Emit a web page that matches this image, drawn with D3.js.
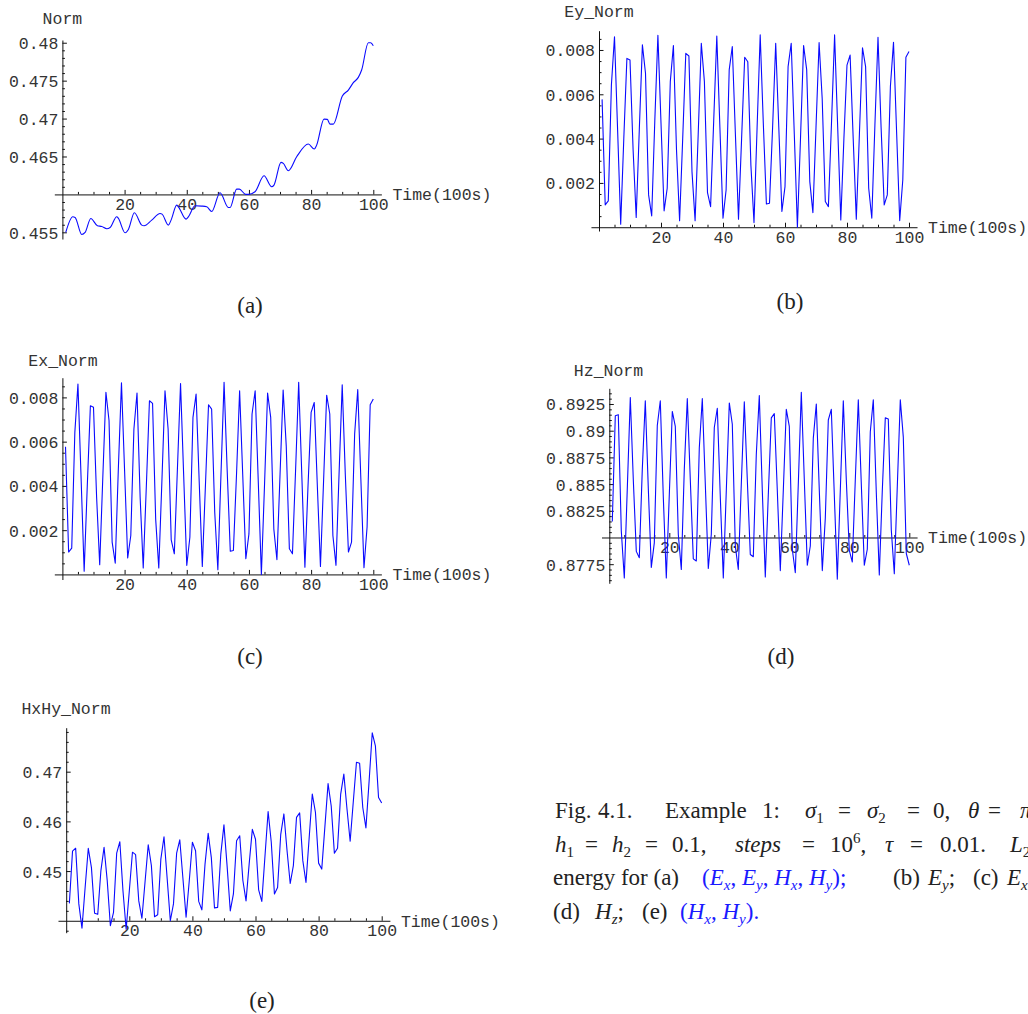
<!DOCTYPE html>
<html><head><meta charset="utf-8">
<script src="https://cdn.jsdelivr.net/npm/d3@7"></script>
<style>
html,body{margin:0;padding:0;background:#fff;}
svg{display:block;}
.mono{font-family:"Liberation Mono","DejaVu Sans Mono",monospace;font-size:16.5px;fill:#333;}
.cap{font-family:"Liberation Serif","DejaVu Serif",serif;font-size:23px;fill:#222;}
</style></head><body>
<svg id="fig" width="1028" height="1014"></svg>
<script>
// ---- time axis (units of 100 s) ----
const timeTicks = [20, 40, 60, 80, 100];
const timeSteps = d3.range(1, 101);

// ---- (a) total norm (Ex, Ey, Hx, Hy) ----
const normTime = [1.08, 3.33, 4.08, 6.22, 7.3, 9.13, 11.27, 12.67, 14.27, 15.34, 17.49, 18.02, 20.16, 21.23,
  23.16, 25.52, 26.27, 28.73, 31.41, 32.06, 34.09, 34.95, 36.77, 37.3, 39.77, 40.52, 42.66, 44.81, 46.42,
  48.02, 50.7, 53.38, 53.92, 56.06, 56.92, 58.95, 59.81, 61.95, 64.85, 67.31, 68.06, 70.31, 71.06, 72.67,
  75.35, 79.1, 81.03, 81.78, 84.14, 85.21, 86.07, 87.14, 90.04, 91.97, 93.57, 95.18, 96.25, 98.4, 99.15, 100];
const normValues = [0.45499, 0.45705, 0.45696, 0.45472, 0.45498, 0.45683, 0.45586, 0.45577, 0.45547, 0.45564,
  0.45705, 0.45683, 0.45494, 0.45538, 0.45758, 0.45595, 0.45586, 0.45661, 0.45749, 0.4574, 0.45595, 0.45661,
  0.45859, 0.45837, 0.45674, 0.45705, 0.4585, 0.45846, 0.45837, 0.45775, 0.46022, 0.45828, 0.45828, 0.4607,
  0.4607, 0.46, 0.46, 0.46035, 0.46246, 0.46101, 0.46123, 0.46422, 0.46409, 0.46312, 0.46496, 0.46664, 0.46598,
  0.4665, 0.46993, 0.46989, 0.46927, 0.46927, 0.47297, 0.47376, 0.47473, 0.47543, 0.4764, 0.48, 0.48, 0.47961];
const normTicks = [0.455, 0.465, 0.47, 0.475, 0.48];

// ---- (b) Ey norm ----
const eyNorm = [0.00577, 0.00101, 0.00119, 0.00642, 0.0086, 0.0044, 0.00014, 0.004, 0.00762, 0.00755,
  0.0035, 0.00044, 0.0044, 0.00823, 0.00695, 0.00146, 0.00051, 0.0048, 0.00866, 0.0047,
  0.00074, 0.00176, 0.00657, 0.0082, 0.0035, 0.00029, 0.004, 0.00785, 0.00773, 0.0025,
  0.00029, 0.0042, 0.0083, 0.00657, 0.00156, 0.00093, 0.0048, 0.00863, 0.0045, 0.00041,
  0.00168, 0.0071, 0.00815, 0.0042, 0.00036, 0.004, 0.00767, 0.00747, 0.0028, 0.00021,
  0.0045, 0.00868, 0.0047, 0.00105, 0.00108, 0.0045, 0.0083, 0.0045, 0.00071, 0.00183,
  0.00725, 0.0083, 0.0042, 0.0, 0.004, 0.0082, 0.0071, 0.00206, 0.00066, 0.0045,
  0.00833, 0.0058, 0.00116, 0.00093, 0.0047, 0.00868, 0.0045, 0.00033, 0.004, 0.00732,
  0.00777, 0.004, 0.00036, 0.0042, 0.0081, 0.00725, 0.00176, 0.00041, 0.0046, 0.00857,
  0.0045, 0.00101, 0.00146, 0.00635, 0.00835, 0.0043, 0.0003, 0.00214, 0.00767, 0.00793];

// ---- (c) Ex norm ----
const exNorm = [0.00577, 0.00101, 0.00119, 0.00642, 0.0086, 0.0044, 0.00014, 0.004, 0.00762, 0.00755,
  0.0035, 0.00044, 0.0044, 0.00823, 0.00695, 0.00146, 0.00051, 0.0048, 0.00866, 0.0047,
  0.00074, 0.00176, 0.00657, 0.0082, 0.0035, 0.00029, 0.004, 0.00785, 0.00773, 0.0025,
  0.00029, 0.0042, 0.0083, 0.00657, 0.00156, 0.00093, 0.0048, 0.00863, 0.0045, 0.00041,
  0.00168, 0.0071, 0.00815, 0.0042, 0.00036, 0.004, 0.00767, 0.00747, 0.0028, 0.00021,
  0.0045, 0.00868, 0.0047, 0.00105, 0.00108, 0.0045, 0.0083, 0.0045, 0.00071, 0.00183,
  0.00725, 0.0083, 0.0042, 0.0, 0.004, 0.0082, 0.0071, 0.00206, 0.00066, 0.0045,
  0.00833, 0.0058, 0.00116, 0.00093, 0.0047, 0.00868, 0.0045, 0.00033, 0.004, 0.00732,
  0.00777, 0.004, 0.00036, 0.0042, 0.0081, 0.00725, 0.00176, 0.00041, 0.0046, 0.00857,
  0.0045, 0.00101, 0.00146, 0.00635, 0.00835, 0.0043, 0.0003, 0.00214, 0.00767, 0.00793];
const fieldTicks = [0.002, 0.004, 0.006, 0.008];

// ---- (d) Hz norm ----
const hzNorm = [0.8815, 0.8914, 0.8915, 0.8806, 0.8762, 0.8846, 0.8931, 0.8854, 0.8787, 0.8781,
  0.8864, 0.8928, 0.8846, 0.8772, 0.8795, 0.8905, 0.8928, 0.8838, 0.8762, 0.884,
  0.8918, 0.8904, 0.8803, 0.877, 0.8864, 0.893, 0.8854, 0.878, 0.8778, 0.8884,
  0.893, 0.885, 0.8771, 0.8803, 0.8903, 0.8921, 0.8838, 0.8762, 0.8844, 0.8926,
  0.8906, 0.8792, 0.877, 0.885, 0.8927, 0.8854, 0.8784, 0.8782, 0.8878, 0.8933,
  0.8844, 0.8763, 0.884, 0.8912, 0.8916, 0.8844, 0.8769, 0.8844, 0.892, 0.8904,
  0.8789, 0.8767, 0.885, 0.8936, 0.8854, 0.8774, 0.8792, 0.8893, 0.8925, 0.8844,
  0.8769, 0.8818, 0.891, 0.892, 0.884, 0.8761, 0.8844, 0.8928, 0.8854, 0.8788,
  0.8777, 0.8854, 0.8929, 0.885, 0.8774, 0.8789, 0.8899, 0.8929, 0.8842, 0.8765,
  0.8844, 0.8912, 0.8911, 0.8807, 0.8766, 0.8848, 0.8929, 0.8894, 0.8785, 0.8774];
const hzTicks = [0.8775, 0.8825, 0.885, 0.8875, 0.89, 0.8925];

// ---- (e) (Hx, Hy) norm ----
const hxhyNorm = [0.4435, 0.454, 0.4546, 0.4434, 0.4385, 0.4467, 0.4546, 0.4507, 0.4415, 0.4413,
  0.4501, 0.4548, 0.4481, 0.439, 0.4417, 0.4536, 0.4559, 0.446, 0.4383, 0.446,
  0.4538, 0.4533, 0.444, 0.4405, 0.4479, 0.4553, 0.4511, 0.4408, 0.4412, 0.4524,
  0.4569, 0.4485, 0.44, 0.4434, 0.4536, 0.4563, 0.4485, 0.4407, 0.448, 0.4558,
  0.4541, 0.4439, 0.4422, 0.4514, 0.4576, 0.4527, 0.4426, 0.4427, 0.4534, 0.4593,
  0.451, 0.442, 0.4454, 0.4561, 0.4571, 0.4481, 0.444, 0.4515, 0.4584, 0.4564,
  0.4462, 0.4439, 0.453, 0.462, 0.4558, 0.4454, 0.4467, 0.4574, 0.4615, 0.4541,
  0.4475, 0.4511, 0.4608, 0.4617, 0.4521, 0.4477, 0.4566, 0.4655, 0.4618, 0.4516,
  0.4504, 0.459, 0.4676, 0.4631, 0.4536, 0.4546, 0.4655, 0.4695, 0.4625, 0.456,
  0.464, 0.4719, 0.4717, 0.4628, 0.4587, 0.468, 0.4778, 0.4752, 0.4648, 0.4637];
const hxhyTicks = [0.45, 0.46, 0.47];

// ---- panel layout ----
const panels = [
  { title: "Norm", tag: "(a)", xs: normTime, ys: normValues, smooth: true,
    xPix: [62.4, 373.3], yDomain: [0.45412, 0.48036], yPix: [239, 40], yCross: 0.46,
    ticks: normTicks, fmt: d => String(+d.toFixed(3)), minorStep: 0.001,
    titlePos: [62.4, 18.5], tagPos: [250, 305] },
  { title: "Ey_Norm", tag: "(b)", xs: timeSteps, ys: eyNorm,
    xPix: [599, 909], yDomain: [-0.00017, 0.00887], yPix: [231, 30.7], yCross: 0,
    ticks: fieldTicks, fmt: d => d.toFixed(3), minorStep: 0.0005,
    titlePos: [599, 11.7], tagPos: [790, 301] },
  { title: "Ex_Norm", tag: "(c)", xs: timeSteps, ys: exNorm,
    xPix: [62.4, 373.3], yDomain: [-0.00023, 0.00889], yPix: [579.5, 377.7], yCross: 0,
    ticks: fieldTicks, fmt: d => d.toFixed(3), minorStep: 0.0005,
    titlePos: [63, 360], tagPos: [250, 656] },
  { title: "Hz_Norm", tag: "(d)", xs: timeSteps, ys: hzNorm,
    xPix: [609.3, 909.3], yDomain: [0.87571, 0.89397], yPix: [583.3, 388.3], yCross: 0.88,
    ticks: hzTicks, fmt: d => String(+d.toFixed(4)), minorStep: 0.0005,
    titlePos: [608.5, 370], tagPos: [781, 656] },
  { title: "HxHy_Norm", tag: "(e)", xs: timeSteps, ys: hxhyNorm,
    xPix: [66.2, 381.7], yDomain: [0.4376, 0.47885], yPix: [932.7, 727.7], yCross: 0.44,
    ticks: hxhyTicks, fmt: d => String(+d.toFixed(2)), minorStep: 0.002,
    titlePos: [66, 708.3], tagPos: [262, 1000] }
];

const svg = d3.select("#fig");
const blue = "#0a0aff";

function styleAxis(g) {
  g.attr("font-family", null).attr("font-size", null);
  g.selectAll("path.domain").attr("stroke", "#111").attr("stroke-width", 1);
  g.selectAll(".tick line").attr("stroke", "#111").attr("stroke-width", 1);
  g.selectAll(".tick text").attr("class", "mono").attr("fill", null);
}

panels.forEach(p => {
  const g = svg.append("g");
  const x = d3.scaleLinear().domain([0, 100]).range(p.xPix);
  const y = d3.scaleLinear().domain(p.yDomain).range(p.yPix);
  const yc = y(p.yCross);
  const x0 = x(0);

  // horizontal (time) axis spans a little past the data on both sides
  const xAxisScale = d3.scaleLinear().domain([-2.6, 102.6]).range([x(-2.6), x(102.6)]);
  const minorX = d3.range(5, 101, 5).filter(v => !timeTicks.includes(v));
  g.append("g").attr("transform", `translate(0,${yc})`)
    .call(d3.axisBottom(xAxisScale).tickValues(minorX).tickSizeInner(-2.5).tickSizeOuter(0).tickFormat(""))
    .call(styleAxis);
  g.append("g").attr("transform", `translate(0,${yc})`)
    .call(d3.axisBottom(xAxisScale).tickValues(timeTicks).tickSizeInner(-4.5).tickSizeOuter(0).tickPadding(4))
    .call(styleAxis)
    .call(a => a.select("path.domain").remove());

  // vertical axis
  const lo = Math.ceil(p.yDomain[0] / p.minorStep - 1e-6);
  const hi = Math.floor(p.yDomain[1] / p.minorStep + 1e-6);
  const minorY = d3.range(lo, hi + 1).map(k => +(k * p.minorStep).toFixed(6))
    .filter(v => !p.ticks.some(t => Math.abs(t - v) < 1e-7) && Math.abs(v - p.yCross) > 1e-7);
  g.append("g").attr("transform", `translate(${x0},0)`)
    .call(d3.axisLeft(y).tickValues(minorY).tickSizeInner(-2.5).tickSizeOuter(0).tickFormat(""))
    .call(styleAxis);
  g.append("g").attr("transform", `translate(${x0},0)`)
    .call(d3.axisLeft(y).tickValues(p.ticks).tickSizeInner(-4.5).tickSizeOuter(0).tickPadding(4).tickFormat(p.fmt))
    .call(styleAxis)
    .call(a => a.select("path.domain").remove())
    .call(a => a.selectAll(".tick text").attr("dy", "0.36em"));

  // data trace
  const line = d3.line()
    .x((d, i) => x(p.xs[i]))
    .y(d => y(d))
    .curve(p.smooth ? d3.curveMonotoneX : d3.curveLinear);
  g.append("path").datum(p.ys)
    .attr("d", line)
    .attr("fill", "none")
    .attr("stroke", blue)
    .attr("stroke-width", 1.1)
    .attr("stroke-linejoin", "round");

  // axis titles
  g.append("text").attr("class", "mono")
    .attr("x", p.titlePos[0]).attr("y", p.titlePos[1]).attr("dy", "0.35em")
    .attr("text-anchor", "middle").text(p.title);
  g.append("text").attr("class", "mono")
    .attr("x", x(102.6) + 11).attr("y", yc).attr("dy", "0.35em")
    .text("Time(100s)");

  // sub-figure tag
  g.append("text").attr("class", "cap")
    .attr("x", p.tagPos[0]).attr("y", p.tagPos[1]).attr("dy", "0.35em")
    .attr("text-anchor", "middle").text(p.tag);
});

// ---- caption ----
// each run: [text, style tokens]; tokens: it (italic), sub, sup, blue
const captionLines = [
  { y: 818, segs: [
    [555, [["Fig."]]], [598, [["4.1."]]], [665, [["Example"]]], [762, [["1:"]]],
    [805, [["σ", "it"], ["1", "sub"]]], [838, [["="]]], [867, [["σ", "it"], ["2", "sub"]]], [907, [["="]]],
    [933, [["0,"]]], [968, [["θ", "it"]]], [988, [["="]]], [1020, [["π", "it"]]] ] },
  { y: 851.5, segs: [
    [555, [["h", "it"], ["1", "sub"]]], [585, [["="]]], [612, [["h", "it"], ["2", "sub"]]], [645, [["="]]],
    [672, [["0.1,"]]], [735, [["steps", "it"]]], [802, [["="]]], [830, [["10"], ["6", "sup"], [","]]],
    [885, [["τ", "it"]]], [910, [["="]]], [940, [["0.01."]]], [1010, [["L", "it"], ["2", "sub"]]] ] },
  { y: 885, segs: [
    [553, [["energy for (a)"]]],
    [702, [["(", "blue"], ["E", "blue it"], ["x", "blue it sub"], [", ", "blue"], ["E", "blue it"], ["y", "blue it sub"], [", ", "blue"],
           ["H", "blue it"], ["x", "blue it sub"], [", ", "blue"], ["H", "blue it"], ["y", "blue it sub"], [");", "blue"]]],
    [893, [["(b)"]]], [928, [["E", "it"], ["y", "it sub"], [";"]]], [973, [["(c)"]]], [1007, [["E", "it"], ["x", "it sub"]]] ] },
  { y: 918.5, segs: [
    [553, [["(d)"]]], [595, [["H", "it"], ["z", "it sub"], [";"]]], [642, [["(e)"]]],
    [680, [["(", "blue"], ["H", "blue it"], ["x", "blue it sub"], [", ", "blue"], ["H", "blue it"], ["y", "blue it sub"], [").", "blue"]]] ] }
];

const cap = svg.append("g");
captionLines.forEach(l => {
  l.segs.forEach(([sx, parts]) => {
    const t = cap.append("text").attr("class", "cap").attr("x", sx).attr("y", l.y);
    let shift = 0;
    parts.forEach(([txt, st = ""]) => {
      const tok = st.split(" ");
      const isSub = tok.includes("sub"), isSup = tok.includes("sup");
      const target = isSub ? 5 : isSup ? -9 : 0;
      const s = t.append("tspan").text(txt).attr("dy", target - shift);
      shift = target;
      if (isSub || isSup) s.attr("font-size", "15px");
      if (tok.includes("it")) s.attr("font-style", "italic");
      if (tok.includes("blue")) s.attr("fill", "#1a1aff");
    });
  });
});
</script>
</body></html>
